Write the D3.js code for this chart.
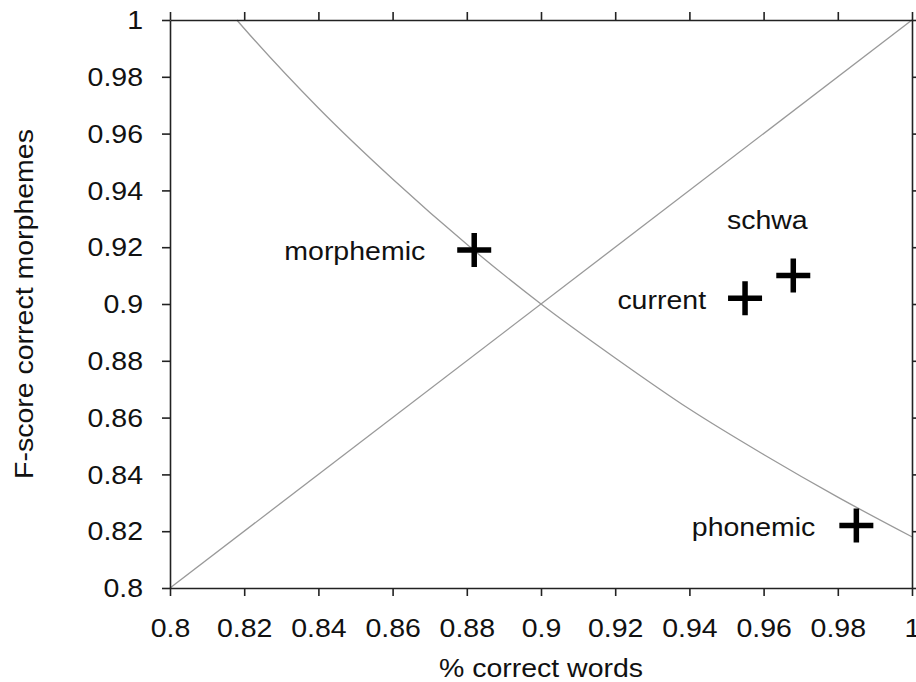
<!DOCTYPE html>
<html>
<head>
<meta charset="utf-8">
<script src="https://cdn.jsdelivr.net/npm/d3@7"></script>
<style>
  body { margin: 0; background: #fff; }
  text { font-family: "Liberation Sans", Arial, Helvetica, sans-serif; fill: #111; }
</style>
</head>
<body>
<div id="vis"></div>
<script>
// tick values / labels
const xTicks = [0.8, 0.82, 0.84, 0.86, 0.88, 0.9, 0.92, 0.94, 0.96, 0.98, 1];
const xTickLabels = ["0.8", "0.82", "0.84", "0.86", "0.88", "0.9", "0.92", "0.94", "0.96", "0.98", "1"];
const yTicks = [0.8, 0.82, 0.84, 0.86, 0.88, 0.9, 0.92, 0.94, 0.96, 0.98, 1];
const yTickLabels = ["0.8", "0.82", "0.84", "0.86", "0.88", "0.9", "0.92", "0.94", "0.96", "0.98", "1"];

// diagonal reference line
const diagX = [0.8, 1.0];
const diagY = [0.8, 1.0];

// iso-line
const isoX = [0.818, 0.82, 0.84, 0.86, 0.88, 0.9, 0.92, 0.94, 0.96, 0.98, 1.0];
const isoY = [1.0, 0.997, 0.969, 0.944, 0.921, 0.9, 0.881, 0.863, 0.847, 0.832, 0.818];

// systems
const systems = ["morphemic", "current", "schwa", "phonemic"];
const wordAcc = [0.882, 0.955, 0.968, 0.985];
const morphF = [0.919, 0.902, 0.910, 0.822];

document.addEventListener("DOMContentLoaded", function(){
  draw();
});

function draw(){
  const W = 916, H = 682;
  const left = 170, right = 912, top = 20, bottom = 588;
  const sx = 1.14; // glyph stretch of the original fonts

  const svg = d3.select("#vis").append("svg")
      .attr("width", W)
      .attr("height", H);

  const x = d3.scaleLinear().domain([0.8, 1]).range([left, right]);
  const y = d3.scaleLinear().domain([0.8, 1]).range([bottom, top]);

  // lines
  const line = d3.line()
      .x(d => x(d[0]))
      .y(d => y(d[1]));

  svg.append("path")
      .datum(d3.zip(diagX, diagY))
      .attr("d", line)
      .attr("fill", "none")
      .attr("stroke", "#999")
      .attr("stroke-width", 1.3);

  svg.append("path")
      .datum(d3.zip(isoX, isoY))
      .attr("d", line.curve(d3.curveMonotoneX))
      .attr("fill", "none")
      .attr("stroke", "#999")
      .attr("stroke-width", 1.3);

  // axes
  const xLab = d => xTickLabels[xTicks.indexOf(d)];
  const yLab = d => yTickLabels[yTicks.indexOf(d)];

  const gB = svg.append("g")
      .attr("transform", "translate(0," + bottom + ")")
      .call(d3.axisBottom(x).tickValues(xTicks).tickFormat(xLab).tickSize(8).tickSizeOuter(0));
  gB.selectAll("text")
      .attr("y", 49)
      .attr("dy", 0)
      .attr("transform", "scale(" + sx + ",1)");

  const gL = svg.append("g")
      .attr("transform", "translate(" + left + ",0)")
      .call(d3.axisLeft(y).tickValues(yTicks).tickFormat(yLab).tickSize(8).tickSizeOuter(0));
  gL.selectAll("text")
      .attr("x", -27 / sx)
      .attr("dy", "0.35em")
      .attr("transform", "scale(" + sx + ",1)");

  const gT = svg.append("g")
      .attr("transform", "translate(0," + top + ")")
      .call(d3.axisTop(x).tickValues(xTicks).tickFormat("").tickSize(8).tickSizeOuter(0));

  const gR = svg.append("g")
      .attr("transform", "translate(" + right + ",0)")
      .call(d3.axisRight(y).tickValues(yTicks).tickFormat("").tickSize(8).tickSizeOuter(0));

  [gB, gL, gT, gR].forEach(function(g){
    g.select(".domain").attr("stroke", "#222").attr("stroke-width", 1.6);
    g.selectAll(".tick line").attr("stroke", "#222").attr("stroke-width", 1.6);
    g.selectAll("text")
      .style("font-size", "25px")
      .attr("fill", "#111");
  });

  // axis titles
  svg.append("text")
      .attr("transform", "translate(" + ((left + right) / 2) + ",677) scale(" + sx + ",1)")
      .attr("text-anchor", "middle")
      .style("font-size", "25px")
      .text("% correct words");

  svg.append("text")
      .attr("transform", "translate(33," + ((top + bottom) / 2) + ") rotate(-90) scale(" + sx + ",1)")
      .attr("text-anchor", "middle")
      .style("font-size", "25px")
      .text("F-score correct morphemes");

  // markers
  const arm = 17;
  const pts = svg.append("g").selectAll("g")
      .data(systems.map((s, i) => ({name: s, wx: wordAcc[i], mf: morphF[i]})))
      .enter().append("g")
      .attr("transform", d => "translate(" + x(d.wx) + "," + y(d.mf) + ")");

  pts.append("path")
      .attr("d", "M" + (-arm) + ",0H" + arm + "M0," + (-arm) + "V" + arm)
      .attr("stroke", "#000")
      .attr("stroke-width", 5.5)
      .attr("fill", "none");

  // label placement (pixel offsets from the marker)
  const labelPos = {
    morphemic: {dx: -49, dy: 10, anchor: "end"},
    current: {dx: -39, dy: 11, anchor: "end"},
    schwa: {dx: -26, dy: -47, anchor: "middle"},
    phonemic: {dx: -41, dy: 10, anchor: "end"}
  };

  pts.append("text")
      .attr("transform", d => "translate(" + labelPos[d.name].dx + "," + labelPos[d.name].dy + ") scale(" + sx + ",1)")
      .attr("text-anchor", d => labelPos[d.name].anchor)
      .style("font-size", "25px")
      .text(d => d.name);
}
</script>
</body>
</html>
